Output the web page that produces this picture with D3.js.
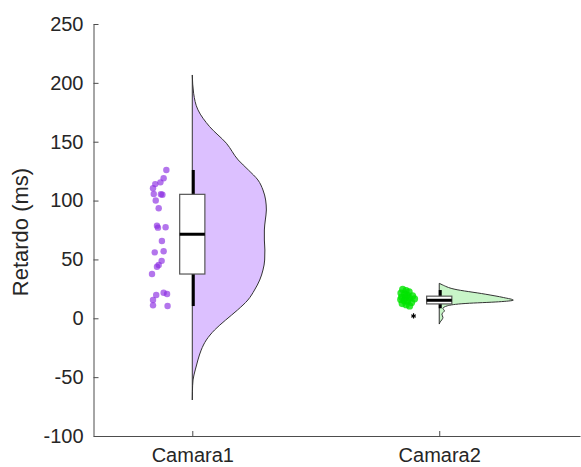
<!DOCTYPE html>
<html>
<head>
<meta charset="utf-8">
<script src="https://cdn.jsdelivr.net/npm/d3@7"></script>
<style>
  body { margin: 0; background: #fff; }
  text { font-family: "Liberation Sans", Arial, sans-serif; fill: #262626; }
</style>
</head>
<body>
<div id="chart"></div>
<script>
let svgWidth = 581;
let svgHeight = 467;

// categories and axis ticks
let categories = ["Camara1", "Camara2"];
let yTicks = [-100, -50, 0, 50, 100, 150, 200, 250];

// raw points (value) and their jittered x position, in category units
let cam1Values = [126, 119, 115.5, 114, 110.5, 105.6, 105.4, 105, 100, 93.5, 78.7, 77, 77.3, 65.7, 56, 57, 48.8, 45.3, 43.8, 37.6, 21.7, 20.6, 19.8, 15.5, 11, 10.4];
let cam1X = [0.895, 0.884, 0.871, 0.850, 0.841, 0.844, 0.873, 0.879, 0.852, 0.864, 0.857, 0.861, 0.892, 0.877, 0.848, 0.884, 0.876, 0.864, 0.857, 0.837, 0.884, 0.898, 0.854, 0.841, 0.841, 0.900];

let cam2Values = [24.5, 23.5, 22.5, 21.5, 20.5, 19.5, 19, 18, 17.5, 17, 16.5, 16, 15, 14.5, 13.5, 12.5, 11.5, 10.5];
let cam2X = [1.852, 1.866, 1.878, 1.845, 1.860, 1.872, 1.892, 1.848, 1.864, 1.880, 1.900, 1.844, 1.858, 1.872, 1.888, 1.850, 1.866, 1.880];
let cam2Outliers = [2];

// box stats
let boxMin = [10.4, 8.5];
let boxQ1 = [37.6, 12.2];
let boxMed = [71.4, 15.3];
let boxQ3 = [105.3, 18.8];
let boxMax = [126, 24];

// half violin profiles: [value, relative density]
let cam1Density = [[206.7, 0], [191.2, 0.018], [177, 0.077], [162.8, 0.234], [148.7, 0.46], [134.5, 0.62],
  [126, 0.757], [117.5, 0.886], [109, 0.954], [100.5, 0.99], [92, 1.0], [83.5, 0.986], [75, 0.973],
  [66.5, 0.973], [58, 0.98], [49.5, 0.977], [41, 0.954], [32.5, 0.91], [24, 0.84], [15.5, 0.75],
  [7, 0.61], [-1.5, 0.45], [-10, 0.3], [-18.4, 0.19], [-27, 0.12], [-35.4, 0.076], [-43.9, 0.04],
  [-52.4, 0.01], [-62, 0.002], [-69.4, 0]];
let cam2Density = [[29.7, 0], [28.5, 0.04], [24.8, 0.2], [20.5, 0.62], [17.6, 0.87], [15.4, 1.0], [14, 0.8],
  [12.6, 0.36], [10.6, 0.11], [8.3, 0.05], [6.4, 0.07], [3.5, 0.036], [0.7, 0.05], [-3.5, 0.01], [-4.9, 0]];

let svg = d3.select("#chart")
    .append("svg")
    .attr("width", svgWidth)
    .attr("height", svgHeight);

let x = d3.scaleLinear().domain([0.6, 2.57]).range([93.5, 580]);
let y = d3.scaleLinear().domain([-100, 250]).range([436, 24]);
let w = d3.scaleLinear().domain([0, 1]).range([0, 0.3]);

let violins = [
    { cat: 1, dens: cam1Density, fill: "#dcc0ff" },
    { cat: 2, dens: cam2Density, fill: "#c8f5c8" }
];

let area = d3.line().curve(d3.curveMonotoneY);

violins.forEach(function (v) {
    let pts = v.dens.map(d => [x(v.cat + w(d[1])), y(d[0])]);
    svg.append("path")
        .attr("d", area(pts) + "Z")
        .attr("fill", v.fill)
        .attr("stroke", "#333")
        .attr("stroke-width", 1);
});

// scatter
svg.selectAll(".p1").data(cam1Values).enter().append("circle")
    .attr("cx", (d, i) => x(cam1X[i]))
    .attr("cy", d => y(d))
    .attr("r", 3.2)
    .attr("fill", "#8a2be2")
    .attr("opacity", 0.65);

svg.selectAll(".p2").data(cam2Values).enter().append("circle")
    .attr("cx", (d, i) => x(cam2X[i]))
    .attr("cy", d => y(d))
    .attr("r", 3.6)
    .attr("fill", "#00e400")
    .attr("opacity", 0.8);

svg.selectAll(".out").data(cam2Outliers).enter().append("path")
    .attr("d", d3.symbol().type(d3.symbolAsterisk).size(18))
    .attr("transform", d => `translate(${x(1.896)}, ${y(d)})`)
    .attr("stroke", "#000")
    .attr("stroke-width", 1.2);

// boxes
let boxHalf = 0.051;
categories.forEach(function (c, i) {
    let cx = x(i + 1) + 1;
    svg.append("line")
        .attr("x1", cx).attr("x2", cx)
        .attr("y1", y(boxMax[i])).attr("y2", y(boxMin[i]))
        .attr("stroke", "#000").attr("stroke-width", 3);
    svg.append("rect")
        .attr("x", x(i + 1 - boxHalf))
        .attr("y", y(boxQ3[i]))
        .attr("width", x(i + 1 + boxHalf) - x(i + 1 - boxHalf))
        .attr("height", y(boxQ1[i]) - y(boxQ3[i]))
        .attr("fill", "#fff")
        .attr("stroke", "#555")
        .attr("stroke-width", 1.2);
    svg.append("line")
        .attr("x1", x(i + 1 - boxHalf)).attr("x2", x(i + 1 + boxHalf))
        .attr("y1", y(boxMed[i])).attr("y2", y(boxMed[i]))
        .attr("stroke", "#000").attr("stroke-width", 3);
});

// axes
let leftAxis = d3.axisLeft(y).tickValues(yTicks).tickFormat(d => String(d))
    .tickSizeInner(-5).tickSizeOuter(0).tickPadding(10);
let bottomAxis = d3.axisBottom(x).tickValues([1, 2]).tickFormat((d, i) => categories[i])
    .tickSizeInner(-5).tickSizeOuter(0).tickPadding(12);

let gy = svg.append("g").attr("transform", `translate(${x(0.6)}, 0)`).call(leftAxis);
let gx = svg.append("g").attr("transform", `translate(0, ${y(-100)})`).call(bottomAxis);

[gx, gy].forEach(function (g) {
    g.select(".domain").attr("stroke", "#4d4d4d");
    g.selectAll(".tick line").attr("stroke", "#4d4d4d");
    g.selectAll("text").attr("font-size", "20px").attr("fill", "#262626")
        .attr("font-family", "Liberation Sans, Arial, sans-serif");
});

svg.append("text")
    .attr("transform", "rotate(-90)")
    .attr("x", -232)
    .attr("y", 28)
    .attr("text-anchor", "middle")
    .attr("font-size", "22px")
    .text("Retardo (ms)");
</script>
</body>
</html>
